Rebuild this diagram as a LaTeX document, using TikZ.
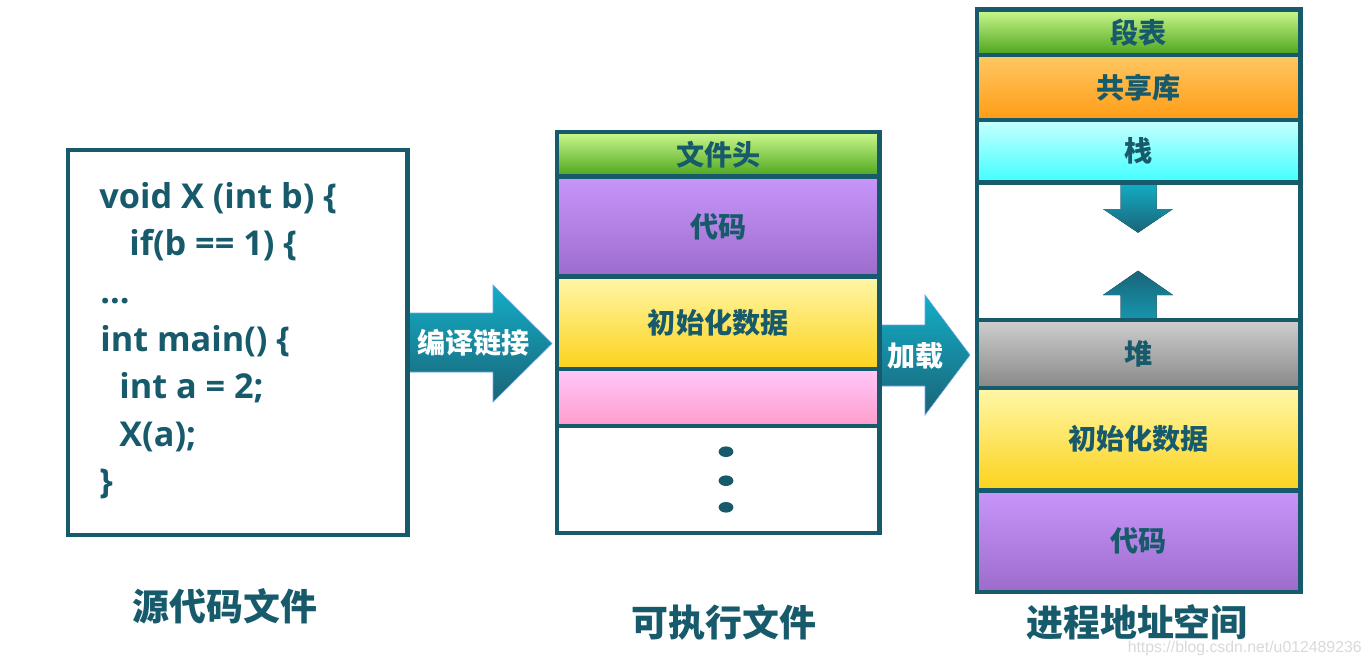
\documentclass[tikz,border=0pt]{standalone}
\usepackage{fontspec}
\setmainfont{Open Sans}
\newfontfamily\cjk{Noto Sans CJK SC}
\newfontfamily\wmfont{Liberation Sans}
\definecolor{edge}{HTML}{175A6B}
\definecolor{arrtop}{HTML}{13AEC6}
\definecolor{arrbot}{HTML}{1A6478}
\definecolor{arrmid}{HTML}{1696AE}
\definecolor{grntop}{HTML}{CCF98E}
\definecolor{grnbot}{HTML}{4CA41C}
\definecolor{purtop}{HTML}{C896FA}
\definecolor{purbot}{HTML}{9C6CCC}
\definecolor{yeltop}{HTML}{FFF7A8}
\definecolor{yelbot}{HTML}{FCD21C}
\definecolor{pnktop}{HTML}{FFC8F8}
\definecolor{pnkbot}{HTML}{FF9CCC}
\definecolor{orgtop}{HTML}{FFC864}
\definecolor{orgbot}{HTML}{FF9C14}
\definecolor{cyntop}{HTML}{C8FFFF}
\definecolor{cynbot}{HTML}{40FFFF}
\definecolor{grytop}{HTML}{CECECE}
\definecolor{grybot}{HTML}{888888}
\tikzset{
  box/.style={draw=edge,line width=0.09cm},
  seg/.style={box,text=edge,inner sep=0pt,font=\cjk\bfseries\fontsize{16}{18}\selectfont},
  exeseg/.style={seg,minimum width=6.45cm},
  proseg/.style={seg,minimum width=6.47cm},
  code/.style={anchor=base west,inner sep=0pt,text=edge,font=\bfseries\fontsize{19.5}{22}\selectfont},
  arrtext/.style={text=white,inner sep=0pt,font=\cjk\bfseries\fontsize{16}{18}\selectfont},
  title/.style={text=edge,inner sep=0pt,font=\cjk\bfseries\fontsize{21}{24}\selectfont},
  bigarrow/.style={top color=arrtop,bottom color=arrbot,draw=arrtop!60!blue!60,line width=0.3pt},
}
\begin{document}
\begin{tikzpicture}[x=0.02cm,y=-0.02cm]
\useasboundingbox (0,0) rectangle (1372,666);
\def\SRC{237.75}\def\EXE{718.25}\def\PRO{1138.75}
% pfeile
\path[bigarrow] (409,313) -- (493,313) -- (493,285) -- (552,343.5) -- (493,402) -- (493,372) -- (409,372) -- cycle;
\node[arrtext] (link) at (473.5,342.5) {编译链接};
\path[bigarrow] (881,325) -- (925,325) -- (925,295) -- (970,355) -- (925,415) -- (925,386) -- (881,386) -- cycle;
\node[arrtext] (load) at (915.5,355.5) {加载};
\fill[top color=arrtop,bottom color=arrbot] (1120.7,182.5) -- (1156.7,182.5) -- (1156.7,209) -- (1173,209)
    -- (1138,232.7) -- (1103,209) -- (1120.7,209) -- cycle;
\fill[top color=arrbot,bottom color=arrmid] (1138,270.7) -- (1173,295) -- (1156.7,295) -- (1156.7,320)
    -- (1120.7,320) -- (1120.7,295) -- (1103,295) -- cycle;
% quelltext
\node[box,minimum width=6.79cm,minimum height=7.7cm] (src) at (\SRC,342.5) {};
\node[code] (l1) at (99,208) {void X (int b) \{};
\node[code] (l2) at (129,255) {if(b == 1) \{};
\node[code] (l3) at (100,303) {...};
\node[code] (l4) at (100,351) {int main() \{};
\node[code] (l5) at (119,398) {int a = 2;};
\node[code] (l6) at (119,446) {X(a);};
\node[code] (l7) at (99,493) {\}};
% ausfuehrbare datei
\node[exeseg,top color=grntop,bottom color=grnbot,minimum height=0.89cm] (ehdr) at (\EXE,154.25) {文件头};
\node[exeseg,top color=purtop,bottom color=purbot,minimum height=2.0cm] (ecode) at (\EXE,226.5) {代码};
\node[exeseg,top color=yeltop,bottom color=yelbot,minimum height=1.85cm] (edata) at (\EXE,322.75) {初始化数据};
\node[exeseg,top color=pnktop,bottom color=pnkbot,minimum height=1.14cm] (ebss) at (\EXE,397.5) {};
\node[exeseg,fill=white,minimum height=2.14cm] (erest) at (\EXE,479.5) {};
\foreach \y in {451.7,480.7,507.3} { \fill[edge] (726,\y) ellipse [x radius=7.4,y radius=5.3]; }
% adressraum
\node[proseg,top color=grntop,bottom color=grnbot,minimum height=0.91cm] (pseg) at (\PRO,32.25) {段表};
\node[proseg,top color=orgtop,bottom color=orgbot,minimum height=1.3cm] (plib) at (\PRO,87.5) {共享库};
\node[proseg,top color=cyntop,bottom color=cynbot,minimum height=1.25cm] (pstack) at (\PRO,151.25) {栈};
\node[proseg,minimum height=2.75cm] (pfree) at (\PRO,251.25) {};
\node[proseg,top color=grytop,bottom color=grybot,minimum height=1.36cm] (pheap) at (\PRO,354) {堆};
\node[proseg,top color=yeltop,bottom color=yelbot,minimum height=2.05cm] (pdata) at (\PRO,439.25) {初始化数据};
\node[proseg,top color=purtop,bottom color=purbot,minimum height=2.03cm] (pcode) at (\PRO,541.25) {代码};
% titel
\node[title] (srcname) at (225,606) {源代码文件};
\node[title] (exename) at (724,622) {可执行文件};
\node[title] (proname) at (1137,622) {进程地址空间};
\node[anchor=base east,inner sep=0pt,text=black!15,font=\wmfont\fontsize{9}{10}\selectfont] (wm) at (1362,652) {https://blog.csdn.net/u012489236};
\end{tikzpicture}
\end{document}
